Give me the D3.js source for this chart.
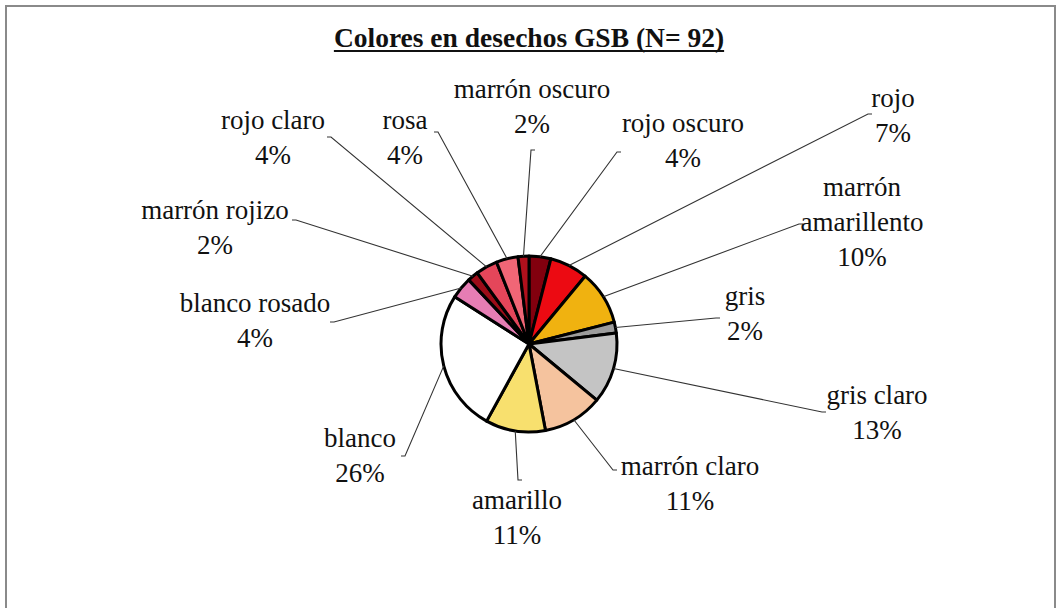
<!DOCTYPE html>
<html>
<head>
<meta charset="utf-8">
<script src="https://cdn.jsdelivr.net/npm/d3@7"></script>
</head>
<body style="margin:0">
<svg id="chart" width="1058" height="608" style="display:block"></svg>
<script>
// datos: porcentajes (sentido horario desde las 12)
const categories = ["rojo oscuro", "rojo", "marrón amarillento", "gris", "gris claro",
    "marrón claro", "amarillo", "blanco", "blanco rosado", "marrón rojizo",
    "rojo claro", "rosa", "marrón oscuro"]
const percents = [4, 7, 10, 2, 13, 11, 11, 26, 4, 2, 4, 4, 2]
const colors = ["#82000e", "#ec0a12", "#f0b210", "#9c9c9c", "#c4c4c4",
    "#f5c39e", "#f8e06e", "#ffffff", "#e67db4", "#9c0c18",
    "#e4465a", "#f16676", "#b0101c"]
const title = "Colores en desechos GSB (N= 92)"

// posición de cada etiqueta: centro x, primera línea base y, inicio de la guía
const labelLayout = [
    {x: 683, y: 132, lx: 617, ly: 152},
    {x: 893, y: 107, lx: 868, ly: 114, lines: ["rojo"]},
    {x: 862, y: 196, lx: 799, ly: 224, lines: ["marrón", "amarillento"]},
    {x: 745, y: 305, lx: 716, ly: 318},
    {x: 877, y: 404, lx: 822, ly: 412},
    {x: 690, y: 475, lx: 613, ly: 470},
    {x: 517, y: 509, lx: 518, ly: 480},
    {x: 360, y: 447, lx: 405, ly: 456},
    {x: 255, y: 312, lx: 334, ly: 322},
    {x: 215, y: 219, lx: 296, ly: 220},
    {x: 273, y: 129, lx: 331, ly: 137},
    {x: 405, y: 129, lx: 438, ly: 132},
    {x: 532, y: 98, lx: 531, ly: 150}
]

const FONT = '"Liberation Serif", monospace'

const svg = d3.select("#chart")
const cx = 529, cy = 344, r = 88
const lineH = 35

// marco
svg.append("rect")
    .attr("x", 6).attr("y", 6)
    .attr("width", 1049).attr("height", 640)
    .attr("fill", "none")
    .attr("stroke", "#8a8a8a")
    .attr("stroke-width", 2)

// titulo
const t = svg.append("text")
    .attr("x", 529).attr("y", 47)
    .attr("text-anchor", "middle")
    .style("font-family", FONT)
    .style("font-size", "27.5px")
    .style("font-weight", "bold")
    .attr("fill", "#111")
    .text(title)
const tb = t.node().getBBox()
svg.append("line")
    .attr("x1", tb.x).attr("x2", tb.x + tb.width)
    .attr("y1", 51).attr("y2", 51)
    .attr("stroke", "#111").attr("stroke-width", 2)

const rows = categories.map((c, i) => ({name: c, value: percents[i], color: colors[i], pos: labelLayout[i]}))

const pie = d3.pie().sort(null).value(d => d.value).startAngle(0).endAngle(2 * Math.PI)
const arcs = pie(rows)

const arc = d3.arc().innerRadius(0).outerRadius(r)
const edge = d3.arc().innerRadius(r).outerRadius(r)

const g = svg.append("g").attr("transform", `translate(${cx},${cy})`)

g.selectAll("path")
    .data(arcs)
    .join("path")
    .attr("d", arc)
    .attr("fill", d => d.data.color)
    .attr("stroke", "#000")
    .attr("stroke-width", 3)
    .attr("stroke-linejoin", "round")

// lineas guia
svg.append("g")
    .selectAll("path")
    .data(arcs)
    .join("path")
    .attr("d", function(d) {
        const p = edge.centroid(d)
        const px = cx + p[0], py = cy + p[1]
        const lx = d.data.pos.lx, ly = d.data.pos.ly
        const tick = lx > px ? 4 : -4
        return `M${lx + tick},${ly}L${lx},${ly}L${px},${py}`
    })
    .attr("fill", "none")
    .attr("stroke", "#333")
    .attr("stroke-width", 1.1)

// etiquetas
const labels = svg.append("g")
    .selectAll("text")
    .data(arcs)
    .join("text")
    .attr("text-anchor", "middle")
    .style("font-family", FONT)
    .style("font-size", "27px")
    .attr("fill", "#111")
    .attr("x", d => d.data.pos.x)
    .attr("y", d => d.data.pos.y)

labels.each(function(d) {
    const lines = (d.data.pos.lines || [d.data.name]).concat([d.data.value + "%"])
    d3.select(this).selectAll("tspan")
        .data(lines)
        .join("tspan")
        .attr("x", d.data.pos.x)
        .attr("dy", (s, i) => i === 0 ? 0 : lineH)
        .text(s => s)
})
</script>
</body>
</html>
